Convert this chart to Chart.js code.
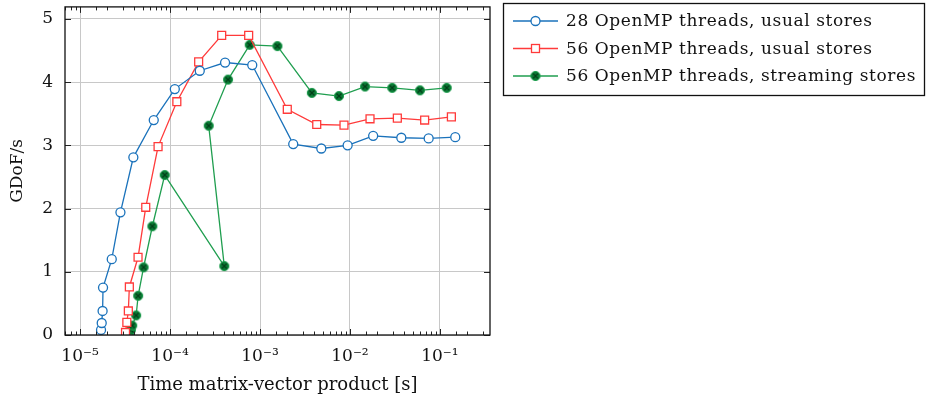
<!DOCTYPE html>
<html>
<head>
<meta charset="utf-8">
<script src="https://cdn.jsdelivr.net/npm/chart.js@4.4.0/dist/chart.umd.min.js"></script>
<style>
html, body { margin: 0; padding: 0; background: #fff; }
</style>
</head>
<body>
<canvas id="chart" width="927" height="405"></canvas>
<script>
// 28 OpenMP threads, usual stores
var time28 = [1.71e-5, 1.74e-5, 1.78e-5, 1.80e-5, 2.25e-5, 2.81e-5, 3.91e-5, 6.59e-5, 1.13e-4, 2.14e-4, 4.09e-4, 8.2e-4, 2.34e-3, 4.80e-3, 9.42e-3, 1.81e-2, 3.72e-2, 7.49e-2, 0.148];
var gdof28 = [0.08, 0.19, 0.38, 0.75, 1.20, 1.94, 2.81, 3.40, 3.89, 4.18, 4.31, 4.27, 3.02, 2.95, 3.00, 3.15, 3.12, 3.11, 3.13];

// 56 OpenMP threads, usual stores
var time56 = [3.2e-5, 3.31e-5, 3.44e-5, 3.53e-5, 4.41e-5, 5.37e-5, 7.36e-5, 1.19e-4, 2.08e-4, 3.75e-4, 7.48e-4, 2.01e-3, 4.27e-3, 8.58e-3, 1.67e-2, 3.36e-2, 6.76e-2, 0.134];
var gdof56 = [0.04, 0.20, 0.38, 0.76, 1.23, 2.02, 2.98, 3.69, 4.32, 4.74, 4.74, 3.57, 3.33, 3.32, 3.42, 3.43, 3.40, 3.45];

// 56 OpenMP threads, streaming stores
var time56s = [3.59e-5, 3.67e-5, 3.8e-5, 4.2e-5, 4.42e-5, 5.08e-5, 6.36e-5, 8.73e-5, 4.01e-4, 2.69e-4, 4.41e-4, 7.69e-4, 1.56e-3, 3.77e-3, 7.55e-3, 1.47e-2, 2.95e-2, 6.00e-2, 0.119];
var gdof56s = [0.04, 0.08, 0.15, 0.31, 0.62, 1.07, 1.72, 2.53, 1.09, 3.31, 4.04, 4.59, 4.57, 3.83, 3.78, 3.93, 3.91, 3.87, 3.91];

var seriesLabels = ['28 OpenMP threads, usual stores', '56 OpenMP threads, usual stores', '56 OpenMP threads, streaming stores'];
var xTitle = 'Time matrix-vector product [s]';
var yTitle = 'GDoF/s';

var FONT = "'DejaVu Serif', serif";
var BLUE = '#1a72bb', RED = '#ff3a3a', GREEN = '#1f9e4f';

function pairs(xs, ys) {
    var out = [];
    for (var i = 0; i < xs.length; i++) out.push({x: xs[i], y: ys[i]});
    return out;
}

// filled circle with a cross (otimes*)
function otimes(r) {
    var c = document.createElement('canvas');
    var s = Math.ceil(r * 2 + 2);
    c.width = s; c.height = s;
    var g = c.getContext('2d');
    var m = s / 2;
    g.beginPath();
    g.arc(m, m, r, 0, 2 * Math.PI);
    g.fillStyle = '#0b7a35';
    g.fill();
    g.lineWidth = 1;
    g.strokeStyle = GREEN;
    g.stroke();
    var d = r * 0.55;
    g.beginPath();
    g.moveTo(m - d, m - d); g.lineTo(m + d, m + d);
    g.moveTo(m + d, m - d); g.lineTo(m - d, m + d);
    g.strokeStyle = '#033d18';
    g.lineWidth = 1.2;
    g.stroke();
    return c;
}
var greenMark = otimes(4.6);

function isMajor(v) {
    var l = Math.log10(v);
    return Math.abs(l - Math.round(l)) < 1e-6;
}
var sup = {'-': '⁻', '0': '⁰', '1': '¹', '2': '²', '3': '³', '4': '⁴', '5': '⁵', '6': '⁶', '7': '⁷', '8': '⁸', '9': '⁹'};
function powLabel(v) {
    var e = String(Math.round(Math.log10(v)));
    return '10' + e.split('').map(function(ch) { return sup[ch]; }).join('');
}

// scales must not push the plot area in; the layout padding decides
var noScalePadding = {
    id: 'noScalePadding',
    beforeLayout: function(chart) {
        Object.keys(chart.scales).forEach(function(k) {
            chart.scales[k].getPadding = function() { return {left: 0, top: 0, right: 0, bottom: 0}; };
        });
    }
};

// box frame and inward tick marks
var framePlugin = {
    id: 'frame',
    afterDatasetsDraw: function(chart) {
        var ctx = chart.ctx, a = chart.chartArea;
        var xs = chart.scales.x, ys = chart.scales.y;
        ctx.save();
        ctx.strokeStyle = '#222';
        ctx.lineWidth = 1;
        xs.ticks.forEach(function(t) {
            var px = Math.round(xs.getPixelForValue(t.value)) + 0.5;
            if (px < a.left || px > a.right) return;
            var len = isMajor(t.value) ? 6 : 3.5;
            ctx.beginPath();
            ctx.moveTo(px, a.bottom); ctx.lineTo(px, a.bottom - len);
            ctx.moveTo(px, a.top); ctx.lineTo(px, a.top + len);
            ctx.stroke();
        });
        ys.ticks.forEach(function(t) {
            var py = Math.round(ys.getPixelForValue(t.value)) + 0.5;
            ctx.beginPath();
            ctx.moveTo(a.left, py); ctx.lineTo(a.left + 6, py);
            ctx.moveTo(a.right, py); ctx.lineTo(a.right - 6, py);
            ctx.stroke();
        });
        ctx.lineWidth = 1.3;
        ctx.strokeStyle = '#111';
        ctx.strokeRect(a.left, a.top, a.right - a.left, a.bottom - a.top);
        ctx.restore();
    }
};

// legend box with line samples
var legendPlugin = {
    id: 'boxLegend',
    afterDraw: function(chart) {
        var ctx = chart.ctx;
        var bx = 503.5, by = 3.5, bw = 421, bh = 92;
        ctx.save();
        ctx.fillStyle = '#fff';
        ctx.fillRect(bx, by, bw, bh);
        ctx.strokeStyle = '#111';
        ctx.lineWidth = 1.3;
        ctx.strokeRect(bx, by, bw, bh);
        ctx.font = '17px ' + FONT;
        ctx.letterSpacing = '0.6px';
        ctx.textBaseline = 'middle';
        chart.data.datasets.forEach(function(ds, i) {
            var y = 21 + i * 27.5;
            ctx.beginPath();
            ctx.moveTo(513, y); ctx.lineTo(558, y);
            ctx.strokeStyle = ds.borderColor;
            ctx.lineWidth = 1.3;
            ctx.stroke();
            var mx = 535.5;
            if (ds.pointStyle === 'circle') {
                ctx.beginPath();
                ctx.arc(mx, y, 4.5, 0, 2 * Math.PI);
                ctx.fillStyle = '#fff'; ctx.fill();
                ctx.stroke();
            } else if (ds.pointStyle === 'rect') {
                ctx.fillStyle = '#fff';
                ctx.fillRect(mx - 4, y - 4, 8, 8);
                ctx.strokeRect(mx - 4, y - 4, 8, 8);
            } else {
                ctx.drawImage(ds.pointStyle, mx - ds.pointStyle.width / 2, y - ds.pointStyle.height / 2);
            }
            ctx.fillStyle = '#111';
            ctx.fillText(ds.label, 566, y + 1);
        });
        ctx.restore();
    }
};

var ctx = document.getElementById('chart').getContext('2d');
new Chart(ctx, {
    type: 'scatter',
    data: {
        datasets: [
            {label: seriesLabels[0], data: pairs(time28, gdof28), showLine: true,
             borderColor: BLUE, backgroundColor: '#fff', borderWidth: 1.3,
             pointStyle: 'circle', pointRadius: 4.5, pointBorderWidth: 1.3, pointBackgroundColor: '#fff'},
            {label: seriesLabels[1], data: pairs(time56, gdof56), showLine: true,
             borderColor: RED, backgroundColor: '#fff', borderWidth: 1.3,
             pointStyle: 'rect', pointRadius: 5.6, pointBorderWidth: 1.3, pointBackgroundColor: '#fff'},
            {label: seriesLabels[2], data: pairs(time56s, gdof56s), showLine: true,
             borderColor: GREEN, backgroundColor: GREEN, borderWidth: 1.3,
             pointStyle: greenMark, pointRadius: 4.6}
        ]
    },
    options: {
        responsive: false,
        animation: false,
        layout: {padding: {left: 0, top: 3, right: 437, bottom: 0}},
        plugins: {
            legend: {display: false},
            tooltip: {enabled: false}
        },
        scales: {
            x: {
                type: 'logarithmic',
                min: 6.8e-6,
                max: 0.36,
                afterFit: function(s) { s.height = 70; },
                border: {display: false},
                grid: {
                    drawTicks: false,
                    lineWidth: 1,
                    color: function(c) { return c.tick && isMajor(c.tick.value) ? '#c8c8c8' : 'rgba(0,0,0,0)'; }
                },
                ticks: {
                    autoSkip: false,
                    maxRotation: 0,
                    includeBounds: false,
                    padding: 11,
                    color: '#111',
                    font: {family: FONT, size: 17},
                    callback: function(v) { return isMajor(v) ? powLabel(v) : ''; }
                },
                title: {
                    display: true, text: xTitle, color: '#111',
                    font: {family: FONT, size: 18},
                    padding: {top: 0, bottom: 9}
                }
            },
            y: {
                min: 0,
                max: 5.19,
                afterFit: function(s) { s.width = 65; },
                border: {display: false},
                grid: {drawTicks: false, color: '#c8c8c8', lineWidth: 1},
                ticks: {
                    stepSize: 1,
                    includeBounds: false,
                    padding: 12,
                    color: '#111',
                    font: {family: FONT, size: 17}
                },
                title: {
                    display: true, text: yTitle, color: '#111',
                    font: {family: FONT, size: 17},
                    padding: {top: 7, bottom: 0}
                }
            }
        }
    },
    plugins: [noScalePadding, framePlugin, legendPlugin]
});
</script>
</body>
</html>
